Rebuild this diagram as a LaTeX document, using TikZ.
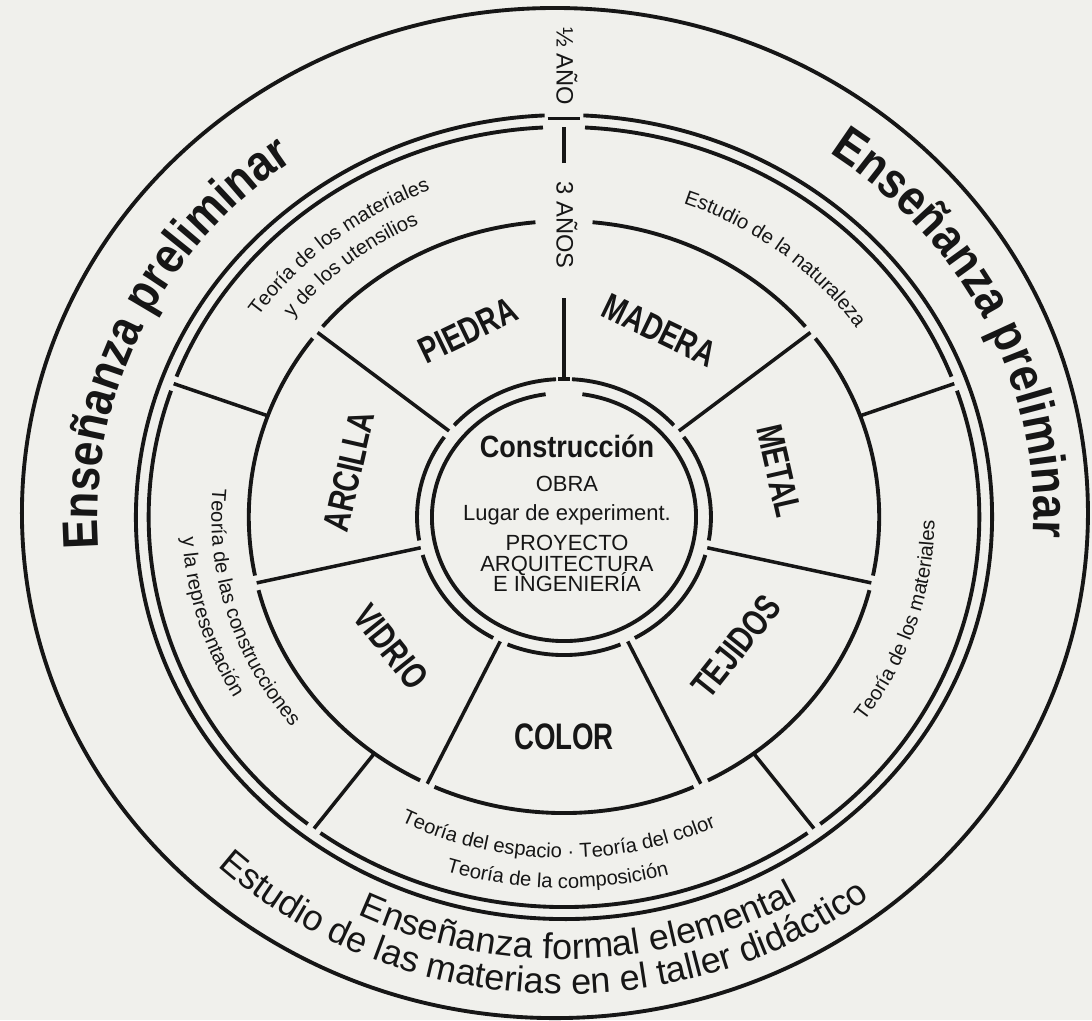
\documentclass[tikz,border=0pt]{standalone}
\usepackage{fontspec}
\setmainfont{Liberation Sans}
\newfontfamily\condfont[FakeStretch=0.75]{Liberation Sans}
\newfontfamily\semicondfont[FakeStretch=0.88]{Liberation Sans}
\usepackage{tikz}
\usetikzlibrary{decorations.text}
\definecolor{paper}{RGB}{240,240,236}
\definecolor{ink}{RGB}{22,22,22}
\newcommand\prelimfont{\semicondfont\bfseries\fontsize{28.5}{32}\selectfont}
\newcommand\formalfont{\fontsize{20.5}{24}\selectfont}
\newcommand\taughtfont{\fontsize{11.5}{13}\selectfont}
\tikzset{
  ringarc/.style={draw=ink, line width=2.2pt},
  spokeline/.style={draw=ink, line width=2pt},
  matlabel/.style={font=\condfont\bfseries\fontsize{21}{23}\selectfont,
                   text=ink, inner sep=0pt},
  yearlabel/.style={font=\fontsize{13.5}{15}\selectfont, text=ink,
                    rotate=-90, inner sep=0pt},
  coreline/.style={font=\fontsize{12.5}{14}\selectfont, text=ink,
                   anchor=base, inner sep=0pt},
  arctext/.style={decorate, decoration={text along path, text={#1},
                  text align=center, text color=ink}}
}

\begin{document}
\begin{tikzpicture}[x=0.0213cm, y=0.02cm]
  %% -- Page --
  \useasboundingbox (-529.6,-503) rectangle (495.8,517);
  \fill[paper] (-529.6,-503) rectangle (495.8,517);

  %% -- Outer circle --
  \draw[ringarc] (-8.5,4) ellipse [x radius=500.5, y radius=505];

  %% -- Double ring around the theory band --
  \draw[ringarc] (87.4:402) arc[start angle=87.4, end angle=-267.4, radius=402];
  \draw[spokeline] (92.2:399) -- (87.8:399);
  \foreach \a/\b/\ga/\gb in {90/20/2.9/1.1, 20/-53/1.1/1.1, -53/-127/1.1/1.1,
                             -127/-200/1.1/1.1, -200/-270/1.1/2.9}
    \draw[ringarc] ({\a-\ga}:390) arc[start angle={\a-\ga}, end angle={\b+\gb}, radius=390];

  %% -- Ring between materials and theory --
  \foreach \a/\b/\ga/\gb in {90/38.571/5.2/1.45, 38.571/-12.857/1.45/1.45,
                             -12.857/-64.286/1.45/1.45, -64.286/-115.714/1.45/1.45,
                             -115.714/-167.143/1.45/1.45, -167.143/-218.571/1.45/1.45,
                             -218.571/-270/1.45/5.2}
    \draw[ringarc] ({\a-\ga}:296) arc[start angle={\a-\ga}, end angle={\b+\gb}, radius=296];

  %% -- Centre double ring --
  \foreach \a/\b in {90/38.571, 38.571/-12.857, -12.857/-64.286, -64.286/-115.714,
                     -115.714/-167.143, -167.143/-218.571, -218.571/-270}
    \draw[ringarc] ({\a-3.1}:138) arc[start angle={\a-3.1}, end angle={\b+3.1}, radius=138];
  \draw[spokeline] (92.4:138) -- (87.6:138);
  \draw[ringarc] (82:124) arc[start angle=82, end angle=-262, radius=124];

  %% -- Spokes: materials --
  \foreach \a in {38.571,-12.857,-64.286,-115.714,-167.143,141.429}
    \draw[spokeline] (\a:138) -- (\a:296);
  \draw[spokeline] (90:137) -- (90:219);

  %% -- Spokes: theory band --
  \foreach \a in {20,160,-53,-127}
    \draw[spokeline] (\a:296) -- (\a:390);
  \draw[spokeline] (90:354) -- (90:390);

  %% -- Materials --
  \foreach \name/\ang/\rot/\rad in {PIEDRA/115.714/25.714/207, MADERA/64.286/-25.714/207,
                                   METAL/12.857/-77.143/207, TEJIDOS/-38.571/51.429/207,
                                   COLOR/-90/0/220, VIDRIO/-141.429/-51.429/208,
                                   ARCILLA/167.143/77.143/207}
    \node[matlabel, rotate=\rot] (mat-\name) at (\ang:\rad) {\name};

  %% -- Centre --
  \node[coreline, font=\semicondfont\bfseries\fontsize{17.5}{19}\selectfont] (core) at (2.8,59.3) {Construcción};
  \node[coreline] (obra)  at (2.8,25.5)  {OBRA};
  \node[coreline] (lugar) at (2.8,-3.5)  {Lugar de experiment.};
  \node[coreline] (proy)  at (2.8,-33.5) {PROYECTO};
  \node[coreline] (arq)   at (2.8,-54.5) {ARQUITECTURA};
  \node[coreline] (ing)   at (2.8,-74.5) {E INGENIERÍA};

  %% -- Years --
  \node[yearlabel] (halfyear)   at (2.8,451) {½ AÑO};
  \node[yearlabel] (threeyears) at (2.8,292) {3 AÑOS};

  %% -- Theory band --
  \path[arctext={|\taughtfont|Teoría de los materiales}] (163.5:350) arc[start angle=163.5, end angle=93.5, radius=350];
  \path[arctext={|\taughtfont|y de los utensilios}] (164:323) arc[start angle=164, end angle=94, radius=323];
  \path[arctext={|\taughtfont|Estudio de la naturaleza}] (87:333) arc[start angle=87, end angle=17, radius=333];
  \path[arctext={|\taughtfont|Teoría de los materiales}] (-53:348) arc[start angle=-53, end angle=17, radius=348];
  \path[arctext={|\taughtfont|Teoría del espacio · Teoría del color}] (-136:341) arc[start angle=-136, end angle=-46, radius=341];
  \path[arctext={|\taughtfont|Teoría de la composición}] (-126:371) arc[start angle=-126, end angle=-56, radius=371];
  \path[arctext={|\taughtfont|Teoría de las construcciones}] (162:331) arc[start angle=162, end angle=232, radius=331];
  \path[arctext={|\taughtfont|y la representación}] (161.5:359) arc[start angle=161.5, end angle=231.5, radius=359];

  %% -- Outer band --
  \path[arctext={|\prelimfont|Enseñanza preliminar}] (205.3:438) arc[start angle=205.3, end angle=105.3, radius=438];
  \path[arctext={|\prelimfont|Enseñanza preliminar}] (76:441) arc[start angle=76, end angle=-24, radius=441];
  \path[arctext={|\formalfont|Enseñanza formal elemental}] (-134:442) arc[start angle=-134, end angle=-42, radius=442];
  \path[arctext={|\formalfont|Estudio de las materias en el taller didáctico}] (-145:477) arc[start angle=-145, end angle=-41, radius=477];
\end{tikzpicture}
\end{document}
